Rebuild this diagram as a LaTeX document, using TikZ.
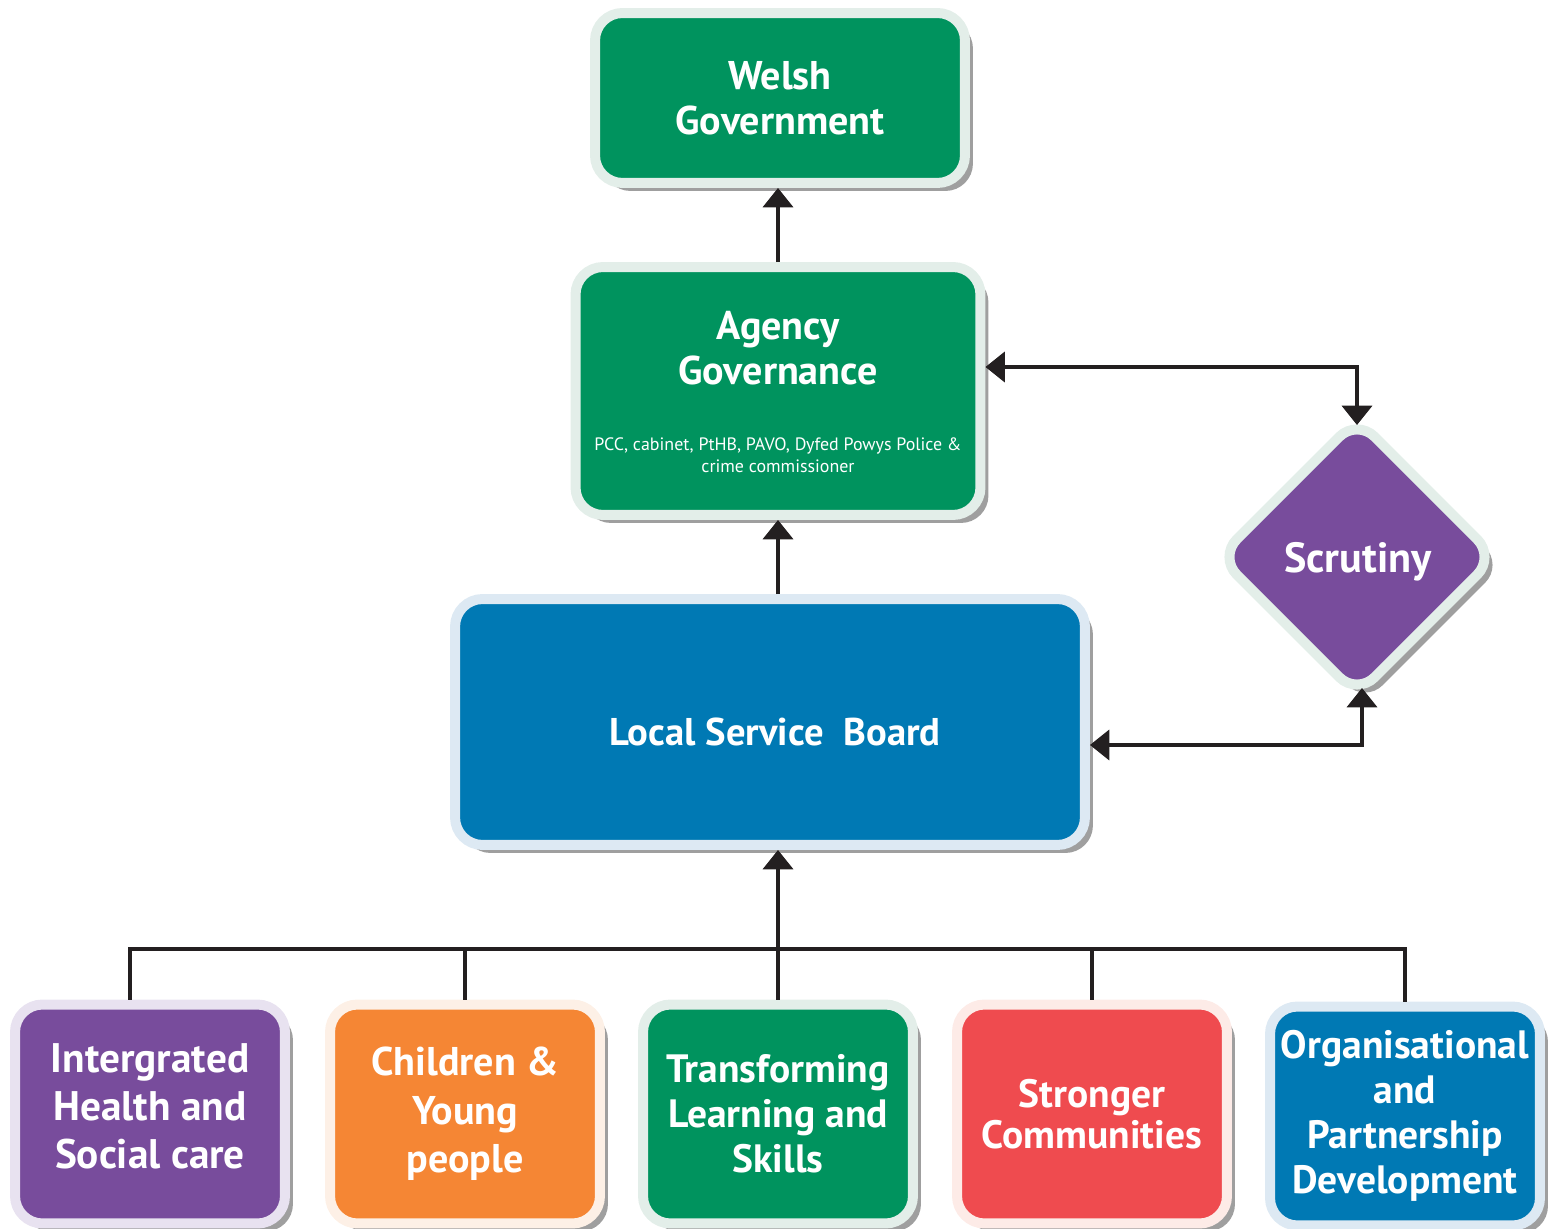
\documentclass[tikz,border=0pt]{standalone}
\usepackage{fontspec}
\setmainfont{PT Sans}
\usetikzlibrary{shapes.geometric,arrows.meta,shadows}
\definecolor{wgreen}{HTML}{00935E}
\definecolor{wgreenrim}{HTML}{E3EEE9}
\definecolor{lblue}{HTML}{0079B4}
\definecolor{lbluerim}{HTML}{DDE9F3}
\definecolor{purp}{HTML}{784C9C}
\definecolor{purprim}{HTML}{E8E2F0}
\definecolor{orng}{HTML}{F58634}
\definecolor{orngrim}{HTML}{FDF0E6}
\definecolor{redd}{HTML}{EF4B4F}
\definecolor{reddrim}{HTML}{FDEBE7}
\definecolor{ink}{HTML}{231F20}
\newcommand{\bigbold}{\bfseries\fontsize{22.8}{25.5}\selectfont}
\newcommand{\workbold}{\bfseries\fontsize{22.5}{25.5}\selectfont}
\tikzset{tile/.style={
    line width=0.2cm,
    text=white,
    align=center,
    drop shadow={shadow xshift=0.16cm, shadow yshift=-0.16cm,
      fill=black!75, opacity=0.5}},
  panel/.style={
    tile,
    rectangle,
    rounded corners=0.55cm},
  workbox/.style={
    panel,
    minimum width=5.4cm,
    minimum height=4.38cm,
    font=\workbold},
  caption/.style={
    text=white,
    align=center},
  link/.style={
    line width=2.3pt,
    draw=ink},
  arrowhd/.style={-{Triangle[width=17pt,length=11pt]}},
  arrowboth/.style={{Triangle[width=17pt,length=11pt]}-{Triangle[width=17pt,length=11pt]}}}

\begin{document}
\begin{tikzpicture}[x=0.02cm, y=-0.02cm]

\useasboundingbox (0,0) rectangle (1553,1229);

% upper chain
\node[panel,
  draw=wgreenrim,
  fill=wgreen,
  minimum width=7.4cm,
  minimum height=3.4cm,
  font=\bigbold] (wg) at (780,98) {Welsh\\Government};

\node[panel,
  draw=wgreenrim,
  fill=wgreen,
  minimum width=8.1cm,
  minimum height=4.96cm] (ag) at (778,391) {};
\node[caption, font=\bigbold] (agtitle) at (778,348) {Agency\\Governance};
\node[caption, font=\fontsize{10.2}{12.8}\selectfont] (agmembers) at (778,455)
  {PCC, cabinet, PtHB, PAVO, Dyfed Powys Police \&\\crime commissioner};

\node[panel,
  draw=lbluerim,
  fill=lblue,
  minimum width=12.6cm,
  minimum height=4.92cm] (lsb) at (770,722) {};
\node[caption, font=\bfseries\fontsize{22}{26}\selectfont] (lsbtitle) at (775,732) {Local Service\ \ Board};

\node[tile,
  diamond,
  aspect=1,
  rounded corners=0.5cm,
  inner sep=0pt,
  draw=wgreenrim,
  fill=purp,
  minimum size=5.6cm] (scr) at (1357,557) {};
\node[caption, font=\bfseries\fontsize{24}{28}\selectfont] (scrtitle) at (1358,562) {Scrutiny};

% work streams
\node[workbox, draw=purprim, fill=purp, font=\bfseries\fontsize{23.5}{27.5}\selectfont] (ihsc) at (150,1114)
  {Intergrated\\Health and\\Social care\\[-0.65cm]};
\node[workbox, draw=orngrim, fill=orng, font=\bfseries\fontsize{22.8}{27.5}\selectfont] (cyp) at (465,1114)
  {Children \&\\Young\\people};
\node[workbox, draw=wgreenrim, fill=wgreen] (tls) at (778,1114)
  {Transforming\\Learning and\\Skills};
\node[workbox, draw=reddrim, fill=redd, font=\bfseries\fontsize{22.5}{23}\selectfont] (sc) at (1092,1114)
  {Stronger\\Communities};
\node[workbox, draw=lbluerim, fill=lblue] (opd) at (1405,1116)
  {Organisational\\and\\Partnership\\Development};

% connectors
\draw[link, arrowhd] (ag.north) -- (wg.south -| ag.north);
\draw[link, arrowhd] (ag.south |- lsb.north) -- (ag.south);
\draw[link, arrowboth] ([yshift=0.48cm]ag.east) -| ([yshift=2.64cm]scr.center);
\draw[link, arrowboth] ([shift={(0.1cm,-2.62cm)}]scr.center) |- ([yshift=-0.46cm]lsb.east);

\coordinate (bus) at (778,949);
\draw[link] ([xshift=-0.4cm]ihsc.north) |- (bus) -| (opd.north);
\draw[link] (cyp.north) -- (cyp.north |- bus);
\draw[link] (sc.north) -- (sc.north |- bus);
\draw[link, arrowhd] (tls.north) -- (lsb.south -| tls.north);

\end{tikzpicture}
\end{document}
